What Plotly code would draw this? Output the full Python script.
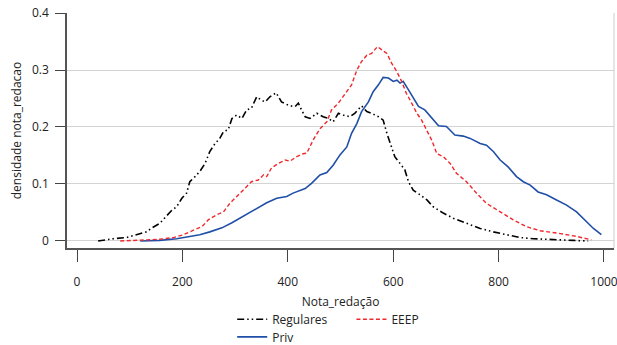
import plotly.graph_objects as go

# Regulares (black dash-dot)
reg_x = [40, 69, 94, 120, 132, 142, 157, 170, 180, 189, 199, 208, 214, 224, 233, 243, 252, 262, 271, 278, 287, 294, 303, 313, 322, 331, 341, 350, 357, 366, 378, 388, 404, 414, 420, 426, 433, 442, 455, 467, 477, 486, 496, 505, 518, 527, 540, 550, 559, 572, 581, 588, 594, 603, 613, 622, 629, 638, 651, 664, 676, 695, 714, 739, 765, 790, 815, 841, 866, 904, 942, 970]
reg_y = [0.000, 0.004, 0.006, 0.012, 0.016, 0.023, 0.031, 0.044, 0.054, 0.060, 0.075, 0.084, 0.104, 0.113, 0.122, 0.136, 0.157, 0.171, 0.180, 0.192, 0.195, 0.215, 0.221, 0.215, 0.230, 0.233, 0.253, 0.247, 0.244, 0.253, 0.260, 0.244, 0.237, 0.236, 0.242, 0.230, 0.218, 0.215, 0.224, 0.218, 0.215, 0.209, 0.224, 0.221, 0.218, 0.224, 0.237, 0.227, 0.224, 0.218, 0.212, 0.189, 0.171, 0.148, 0.136, 0.125, 0.104, 0.089, 0.081, 0.072, 0.060, 0.049, 0.040, 0.031, 0.022, 0.016, 0.011, 0.006, 0.004, 0.002, 0.001, 0.000]

# EEEP (red dashed)
eeep_x = [82, 120, 157, 183, 202, 221, 237, 249, 265, 278, 290, 303, 319, 331, 344, 354, 360, 369, 382, 395, 404, 417, 429, 436, 448, 461, 474, 483, 496, 512, 521, 531, 540, 550, 559, 570, 578, 588, 597, 607, 616, 625, 635, 645, 654, 664, 673, 683, 695, 708, 720, 739, 758, 777, 803, 828, 853, 879, 917, 948, 976]
eeep_y = [0.000, 0.001, 0.003, 0.006, 0.011, 0.019, 0.025, 0.037, 0.046, 0.051, 0.066, 0.078, 0.092, 0.104, 0.107, 0.116, 0.113, 0.128, 0.136, 0.142, 0.140, 0.148, 0.153, 0.154, 0.177, 0.197, 0.209, 0.230, 0.242, 0.262, 0.274, 0.300, 0.315, 0.326, 0.329, 0.341, 0.335, 0.329, 0.312, 0.297, 0.280, 0.259, 0.242, 0.224, 0.212, 0.195, 0.177, 0.153, 0.148, 0.136, 0.119, 0.104, 0.084, 0.066, 0.051, 0.037, 0.025, 0.018, 0.013, 0.008, 0.002]

# Priv (blue solid)
priv_x = [120, 157, 189, 214, 233, 252, 275, 294, 309, 328, 341, 360, 379, 398, 410, 423, 433, 445, 461, 474, 486, 499, 512, 521, 531, 540, 553, 562, 572, 581, 591, 600, 607, 613, 619, 629, 638, 648, 660, 673, 686, 701, 717, 733, 746, 765, 777, 790, 803, 818, 834, 847, 860, 875, 891, 910, 929, 948, 964, 980, 995]
priv_y = [0.000, 0.001, 0.004, 0.008, 0.011, 0.016, 0.023, 0.032, 0.040, 0.050, 0.057, 0.067, 0.075, 0.078, 0.084, 0.089, 0.092, 0.101, 0.116, 0.120, 0.133, 0.151, 0.165, 0.189, 0.206, 0.227, 0.244, 0.262, 0.274, 0.287, 0.286, 0.280, 0.282, 0.277, 0.280, 0.265, 0.250, 0.236, 0.230, 0.215, 0.202, 0.201, 0.186, 0.184, 0.180, 0.171, 0.168, 0.157, 0.142, 0.130, 0.113, 0.104, 0.098, 0.086, 0.081, 0.072, 0.063, 0.051, 0.037, 0.022, 0.011]

x_ticks = [0, 200, 400, 600, 800, 1000]
y_ticks = [0, 0.1, 0.2, 0.3, 0.4]
y_tick_labels = ["0", "0.1", "0.2", "0.3", "0.4"]

FONT = "Open Sans"

fig = go.Figure()
fig.add_trace(go.Scatter(x=reg_x, y=reg_y, mode="lines", name="Regulares",
                         line=dict(color="#000000", width=1.6, dash="7px,3px,1.5px,3px,1.5px,3px"),
                         legend="legend"))
fig.add_trace(go.Scatter(x=priv_x, y=priv_y, mode="lines", name="Priv",
                         line=dict(color="#1f4fa6", width=1.6),
                         legend="legend3"))
fig.add_trace(go.Scatter(x=eeep_x, y=eeep_y, mode="lines", name="EEEP",
                         line=dict(color="#f0282d", width=1.4, dash="4px,2.5px"),
                         legend="legend2"))

leg_common = dict(orientation="v", xanchor="left", yanchor="middle",
                  bgcolor="rgba(0,0,0,0)", font=dict(family=FONT, size=12, color="#222"),
                  itemwidth=30)

fig.update_layout(
    width=617, height=345,
    margin=dict(l=67, r=3, t=13, b=97, autoexpand=False),
    paper_bgcolor="white", plot_bgcolor="white",
    font=dict(family=FONT, size=12, color="#222"),
    xaxis=dict(range=[-19, 1019], tickvals=x_ticks, ticks="outside", ticklen=12,
               tickcolor="#444", tickwidth=1, showline=True, linecolor="#555", linewidth=1.5,
               showgrid=False, zeroline=False, ticklabelstandoff=10,
               ticklabeloverflow="allow",
               title=dict(text="Nota_redação", standoff=8, font=dict(size=12)),
               tickfont=dict(size=12)),
    yaxis=dict(range=[-0.0123, 0.4], tickvals=y_ticks, ticktext=y_tick_labels,
               ticks="outside", ticklen=10, tickcolor="#444", tickwidth=1,
               showline=True, linecolor="#555", linewidth=1.5,
               showgrid=True, gridcolor="#d4d4d4", gridwidth=1, zeroline=False,
               ticklabelstandoff=4,
               title=dict(text="densidade nota_redacao", standoff=8, font=dict(size=12)),
               tickfont=dict(size=12)),
    showlegend=True,
    legend=dict(x=0.302, y=-0.303, **leg_common),
    legend2=dict(x=0.52, y=-0.303, **leg_common),
    legend3=dict(x=0.302, y=-0.378, **leg_common),
    shapes=[dict(type="line", xref="paper", yref="paper", x0=1, x1=1, y0=0, y1=1,
                 line=dict(color="#cccccc", width=1))],
)

fig.write_html("out.html")
